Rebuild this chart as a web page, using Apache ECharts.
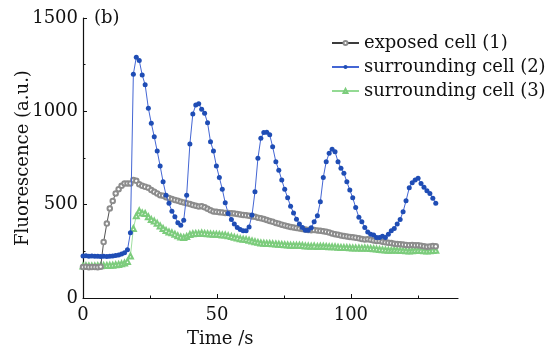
<!DOCTYPE html>
<html>
<head>
<meta charset="utf-8">
<script src="https://cdn.jsdelivr.net/npm/echarts@6/dist/echarts.min.js"></script>
<style>
  html, body { margin: 0; padding: 0; background: #fff; }
  #chart { width: 550px; height: 352px; }
</style>
</head>
<body>
<div id="chart"></div>
<script>
// frame times (s)
const time = [0, 1.1, 2.2, 3.3, 4.4, 5.5, 6.6, 7.7, 8.9, 10.0, 11.1, 12.2, 13.3, 14.4, 15.5, 16.6, 17.7, 18.8, 19.9, 21.0,
  22.1, 23.2, 24.4, 25.5, 26.6, 27.7, 28.8, 29.9, 31.0, 32.1, 33.2, 34.3, 35.4, 36.5, 37.6, 38.7, 39.9, 41.0, 42.1, 43.2,
  44.3, 45.4, 46.5, 47.6, 48.7, 49.8, 50.9, 52.0, 53.1, 54.2, 55.4, 56.5, 57.6, 58.7, 59.8, 60.9, 62.0, 63.1, 64.2, 65.3,
  66.4, 67.5, 68.6, 69.7, 70.8, 72.0, 73.1, 74.2, 75.3, 76.4, 77.5, 78.6, 79.7, 80.8, 81.9, 83.0, 84.1, 85.2, 86.3, 87.5,
  88.6, 89.7, 90.8, 91.9, 93.0, 94.1, 95.2, 96.3, 97.4, 98.5, 99.6, 100.7, 101.8, 103.0, 104.1, 105.2, 106.3, 107.4, 108.5, 109.6,
  110.7, 111.8, 112.9, 114.0, 115.1, 116.2, 117.3, 118.4, 119.5, 120.6, 121.8, 122.9, 124.0, 125.1, 126.2, 127.3, 128.4, 129.5, 130.6, 131.7];

const exposed = [166, 167, 165, 166, 166, 165, 168, 300, 399, 480, 520, 560, 583, 601, 614, 614, 614, 632, 628, 610,
  601, 596, 590, 578, 569, 560, 551, 548, 540, 536, 530, 525, 521, 515, 511, 507, 503, 498, 494, 490,
  492, 486, 478, 470, 464, 462, 460, 458, 456, 455, 454, 453, 450, 447, 445, 443, 440, 437, 435, 430,
  427, 423, 418, 413, 408, 402, 398, 393, 389, 385, 381, 378, 375, 372, 370, 367, 364, 363, 364, 362,
  360, 358, 355, 351, 346, 342, 339, 335, 332, 330, 327, 325, 323, 320, 316, 313, 315, 312, 308, 306,
  305, 302, 298, 296, 294, 291, 289, 288, 286, 284, 283, 284, 282, 283, 280, 277, 274, 276, 278, 277];

const surrounding2 = [225, 226, 224, 225, 223, 224, 222, 223, 222, 224, 225, 228, 231, 236, 242, 258, 349, 1199, 1290, 1272,
  1195, 1142, 1017, 936, 864, 787, 707, 623, 551, 507, 465, 435, 403, 390, 417, 551, 825, 986, 1034, 1040,
  1011, 990, 939, 837, 787, 707, 646, 583, 510, 453, 421, 396, 378, 367, 360, 360, 381, 444, 569, 748,
  856, 886, 888, 875, 810, 730, 685, 632, 582, 537, 492, 456, 422, 396, 378, 363, 363, 376, 408, 440,
  515, 646, 730, 775, 797, 784, 730, 695, 668, 623, 578, 537, 485, 432, 408, 378, 354, 342, 337, 324,
  324, 331, 324, 342, 360, 372, 396, 421, 462, 521, 590, 617, 632, 641, 614, 593, 574, 560, 534, 507];

const surrounding3 = [172, 173, 172, 171, 172, 173, 173, 174, 174, 175, 176, 178, 180, 183, 188, 196, 225, 372, 440, 467,
  456, 453, 435, 420, 412, 400, 386, 372, 362, 354, 349, 342, 333, 327, 324, 330, 340, 344, 346, 345,
  348, 346, 344, 343, 342, 341, 340, 338, 337, 333, 329, 325, 322, 318, 315, 313, 309, 305, 301, 298,
  295, 293, 292, 292, 291, 289, 288, 287, 285, 284, 283, 283, 282, 283, 281, 279, 278, 277, 279, 276,
  277, 277, 276, 275, 274, 274, 272, 271, 270, 270, 269, 268, 268, 268, 267, 268, 266, 265, 264, 262,
  260, 259, 257, 256, 256, 257, 256, 255, 254, 253, 252, 253, 255, 256, 255, 253, 252, 253, 255, 256];

const seriesNames = ['exposed cell (1)', 'surrounding cell (2)', 'surrounding cell (3)'];
const xMajorTicks = [0, 50, 100];
const xMinorTicks = [25, 75, 125];

const FONT = 'DejaVu Serif';
const pairs = vals => vals.map((v, i) => [time[i], v]);

const chart = echarts.init(document.getElementById('chart'), null, { renderer: 'canvas' });

chart.setOption({
  backgroundColor: '#fff',
  animation: false,
  textStyle: { fontFamily: FONT },
  grid: { left: 83, right: 92, top: 18, bottom: 54, outerBoundsMode: 'none', containLabel: false },
  legend: {
    orient: 'vertical',
    left: 326,
    top: 29,
    itemWidth: 27,
    itemHeight: 5,
    itemGap: 6,
    data: seriesNames,
    textStyle: { fontFamily: FONT, fontSize: 18, color: '#111' }
  },
  graphic: [
    { type: 'text', left: 94, top: 9, style: { text: '(b)', font: '18px "DejaVu Serif"', fill: '#111' } },
    { type: 'text', left: 187, top: 330, style: { text: 'Time /s', font: '18px "DejaVu Serif"', fill: '#111' } }
  ],
  xAxis: [
    {
      type: 'value', min: 0, max: 140, interval: 50, position: 'bottom',
      axisLine: { lineStyle: { color: '#111', width: 1.2 } },
      axisTick: { inside: true, length: 4, customValues: xMajorTicks, lineStyle: { color: '#111' } },
      axisLabel: { customValues: xMajorTicks, margin: 8, fontFamily: FONT, fontSize: 18, color: '#111' },
      splitLine: { show: false }
    },
    {
      type: 'value', min: 0, max: 140, interval: 50, position: 'bottom', offset: 0,
      axisLine: { show: false },
      axisTick: { inside: true, length: 2.5, customValues: xMinorTicks, lineStyle: { color: '#111' } },
      axisLabel: { show: false },
      splitLine: { show: false }
    }
  ],
  yAxis: {
    type: 'value', min: 0, max: 1500, interval: 500,
    name: 'Fluorescence (a.u.)', nameLocation: 'middle', nameGap: 51, nameRotate: 90,
    nameMoveOverlap: false,
    nameTextStyle: { fontFamily: FONT, fontSize: 18, color: '#111' },
    axisLine: { show: true, lineStyle: { color: '#111', width: 1.2 } },
    axisTick: { show: true, inside: true, length: 4, lineStyle: { color: '#111' } },
    minorTick: { show: true, splitNumber: 2, length: 2.5, lineStyle: { color: '#111' } },
    axisLabel: { margin: 5, fontFamily: FONT, fontSize: 18, color: '#111', formatter: v => String(v) },
    splitLine: { show: false }
  },
  series: [
    {
      name: seriesNames[0], type: 'line', data: pairs(exposed),
      symbol: 'emptyCircle', symbolSize: 4.5, showAllSymbol: true,
      itemStyle: { color: '#8c8c8c', borderWidth: 0.8 },
      lineStyle: { color: '#3c3c3c', width: 0.9 },
      z: 2
    },
    {
      name: seriesNames[1], type: 'line', data: pairs(surrounding2),
      symbol: 'circle', symbolSize: 5, showAllSymbol: true,
      itemStyle: { color: '#1f4db5' },
      lineStyle: { color: '#4466d4', width: 1 },
      z: 3
    },
    {
      name: seriesNames[2], type: 'line', data: pairs(surrounding3),
      symbol: 'emptyTriangle', symbolSize: 5, showAllSymbol: true,
      itemStyle: { color: '#7ccc7c', borderWidth: 0.8 },
      lineStyle: { color: '#94da94', width: 0.9 },
      z: 1
    }
  ]
});
</script>
</body>
</html>
